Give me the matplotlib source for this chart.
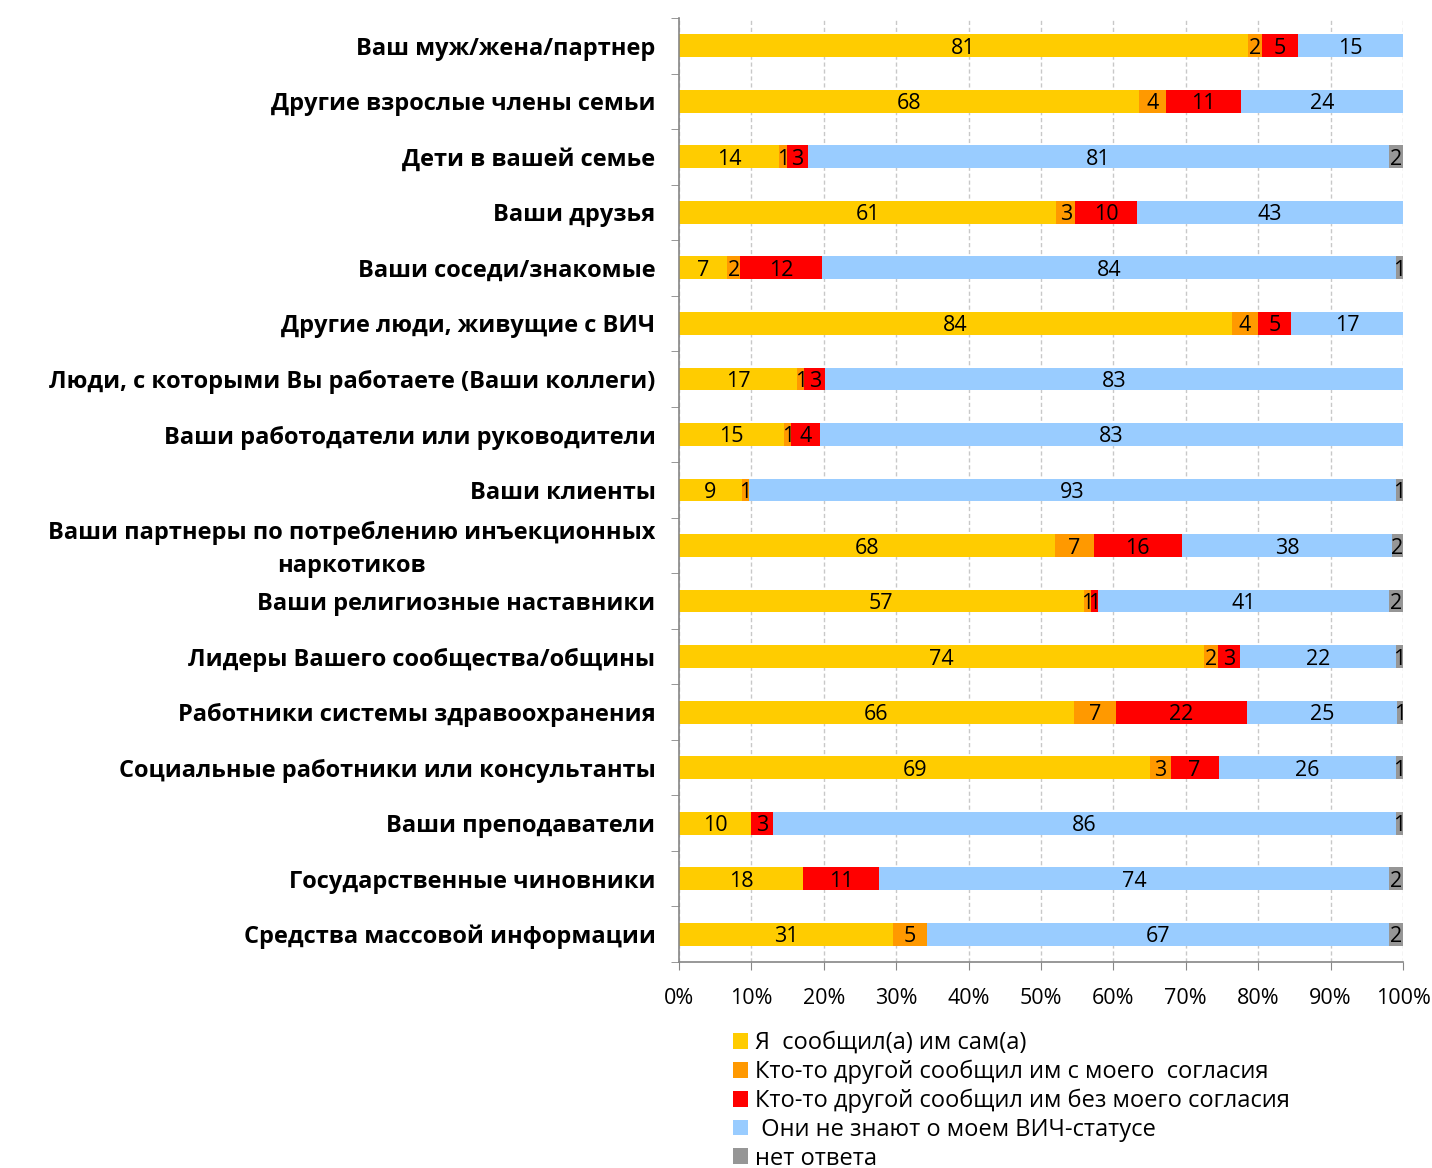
import matplotlib
matplotlib.use('Agg')
import matplotlib.pyplot as plt
import numpy as np
from matplotlib.patches import Patch
from matplotlib.transforms import ScaledTranslation

plt.rcParams['font.family'] = ['Open Sans', 'DejaVu Sans']

categories = [
    "Ваш муж/жена/партнер",
    "Другие взрослые члены семьи",
    "Дети в вашей семье",
    "Ваши друзья",
    "Ваши соседи/знакомые",
    "Другие люди, живущие с ВИЧ",
    "Люди, с которыми Вы работаете (Ваши коллеги)",
    "Ваши работодатели или руководители",
    "Ваши клиенты",
    "Ваши партнеры по потреблению инъекционных\nнаркотиков",
    "Ваши религиозные наставники",
    "Лидеры Вашего сообщества/общины",
    "Работники системы здравоохранения",
    "Социальные работники или консультанты",
    "Ваши преподаватели",
    "Государственные чиновники",
    "Средства массовой информации",
]

self_told = [81, 68, 14, 61, 7, 84, 17, 15, 9, 68, 57, 74, 66, 69, 10, 18, 31]
other_with_consent = [2, 4, 1, 3, 2, 4, 1, 1, 1, 7, 1, 2, 7, 3, 0, 0, 5]
other_without_consent = [5, 11, 3, 10, 12, 5, 3, 4, 0, 16, 1, 3, 22, 7, 3, 11, 0]
dont_know = [15, 24, 81, 43, 84, 17, 83, 83, 93, 38, 41, 22, 25, 26, 86, 74, 67]
no_answer = [0, 0, 2, 0, 1, 0, 0, 0, 1, 2, 2, 1, 1, 1, 1, 2, 2]

series_names = [
    "Я  сообщил(а) им сам(а)",
    "Кто-то другой сообщил им с моего  согласия",
    "Кто-то другой сообщил им без моего согласия",
    " Они не знают о моем ВИЧ-статусе",
    "нет ответа",
]
series_colors = ["#FFCC00", "#FF9900", "#FF0000", "#99CCFF", "#969696"]
x_tick_labels = ["0%", "10%", "20%", "30%", "40%", "50%", "60%", "70%", "80%", "90%", "100%"]

W, H = 1432, 1168
fig = plt.figure(figsize=(W / 100, H / 100), dpi=100)
ax = fig.add_axes([679 / W, 1 - 962 / H, (1403 - 679) / W, (962 - 18) / H])

data = np.array([self_told, other_with_consent, other_without_consent, dont_know, no_answer], dtype=float)
totals = data.sum(axis=0)
shares = data / totals
y = np.arange(len(categories))

left = np.zeros(len(categories))
for vals, share, color in zip(data, shares, series_colors):
    ax.barh(y, share, left=left, height=0.41, color=color, edgecolor='none', zorder=2)
    for i in range(len(categories)):
        if vals[i] > 0:
            ax.text(left[i] + share[i] / 2, y[i], f"{int(vals[i])}", ha='center',
                    va='center_baseline', fontsize=15.5, color='black', zorder=3)
    left += share

ax.set_xlim(0, 1)
ax.set_ylim(len(categories) - 0.5, -0.5)

ax.set_xticks(np.linspace(0, 1, 11))
ax.set_xticklabels(x_tick_labels, fontsize=15.5)
ax.tick_params(axis='x', length=6, color='#868686', pad=13)

ax.set_yticks(y)
ylabels = ax.set_yticklabels(categories, fontsize=17, fontweight='bold', multialignment='center',
                             linespacing=1.5)
ax.tick_params(axis='y', which='major', length=0, pad=17)
ax.set_yticks(np.arange(-0.5, len(categories), 1), minor=True)
ax.tick_params(axis='y', which='minor', length=6, color='#868686')
for lab in ylabels:
    if "\n" in lab.get_text():
        lab.set_transform(lab.get_transform() + ScaledTranslation(0, 4 / 100, fig.dpi_scale_trans))

ax.xaxis.grid(True, color='#C8C8C8', linestyle=(0, (3, 2)), linewidth=1, zorder=0)
ax.set_axisbelow(True)
for s in ['top', 'right']:
    ax.spines[s].set_visible(False)
for s in ['left', 'bottom']:
    ax.spines[s].set_color('#868686')
    ax.spines[s].set_linewidth(1.2)

handles = [Patch(facecolor=c, edgecolor='none') for c in series_colors]
fig.legend(handles, series_names, loc='upper left', bbox_to_anchor=(733 / W, 1 - 1031 / H),
           frameon=False, fontsize=17, handlelength=0.65, handleheight=0.65,
           handletextpad=0.3, labelspacing=0.2, borderaxespad=0, borderpad=0)

fig.savefig('out.png', dpi=100)
